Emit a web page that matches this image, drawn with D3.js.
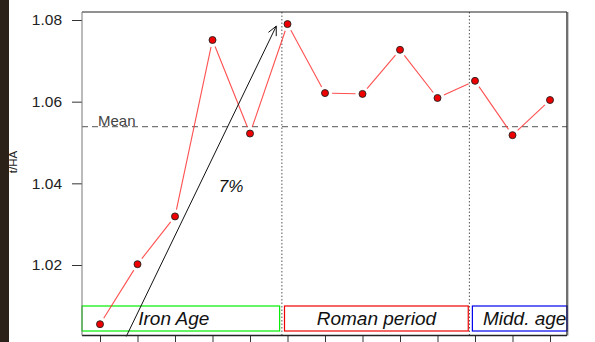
<!DOCTYPE html>
<html>
<head>
<meta charset="utf-8">
<script src="https://cdn.jsdelivr.net/npm/d3@7"></script>
<style>
  html, body { margin: 0; padding: 0; background: #fff; }
  svg { display: block; font-family: Arial, "Liberation Sans", sans-serif; }
</style>
</head>
<body>
<div id="chart"></div>
<script>
// Yield per hectare across successive periods
const sampleIndex = [1, 2, 3, 4, 5, 6, 7, 8, 9, 10, 11, 12, 13];
const yieldValues = [1.0055, 1.0202, 1.0319, 1.0751, 1.0522, 1.0790, 1.0621, 1.0619, 1.0727, 1.0609, 1.0651, 1.0518, 1.0604];
const meanValue = 1.0539;
const yTicks = [1.02, 1.04, 1.06, 1.08];
const periodNames = ["Iron Age", "Roman period", "Midd. age"];
const periodStarts = [0.51, 5.92, 10.93];
const periodEnds = [5.79, 10.82, 13.46];
const periodColors = ["#00ee00", "#ee0000", "#0000ee"];
const periodBreaks = [5.85, 10.85];
const growthLabel = "7%";
const growthFrom = [1.7, 1.0025];
const growthTo = [5.7, 1.0785];

const W = 595, H = 342;
const svg = d3.select("#chart").append("svg").attr("width", W).attr("height", H);

// dark strip along the left edge
svg.append("rect").attr("x", 0).attr("y", 0).attr("width", 9).attr("height", H).attr("fill", "#2b2119");

const plot = { left: 82, right: 567, top: 12, bottom: 335.5 };

const x = d3.scaleLinear().domain([1, 13]).range([100, 550]);
const y = d3.scaleLinear().domain([1.02, 1.08]).range([265, 20]);

// y axis
const yAxis = d3.axisLeft(y).tickValues(yTicks).tickFormat(d3.format(".2f")).tickSize(10).tickPadding(10);
const gy = svg.append("g").attr("transform", `translate(${plot.left},0)`).call(yAxis);
gy.select(".domain").remove();
gy.selectAll(".tick line").attr("stroke", "#333");
gy.selectAll(".tick text").attr("font-size", 15.5).attr("fill", "#222");

// x axis ticks below the frame
const xAxis = d3.axisBottom(x).tickValues(sampleIndex).tickFormat("").tickSize(8);
const gx = svg.append("g").attr("transform", `translate(0,${plot.bottom})`).call(xAxis);
gx.select(".domain").remove();
gx.selectAll(".tick line").attr("stroke", "#333");

// y axis label
svg.append("text")
  .attr("transform", `translate(17,162) rotate(-90)`)
  .attr("text-anchor", "middle")
  .attr("font-size", 11.5)
  .attr("fill", "#222")
  .text("t/HA");

// mean line
svg.append("line")
  .attr("x1", plot.left).attr("x2", plot.right)
  .attr("y1", y(meanValue)).attr("y2", y(meanValue))
  .attr("stroke", "#777").attr("stroke-width", 1.3).attr("stroke-dasharray", "6,4");
svg.append("text")
  .attr("x", 98).attr("y", y(meanValue) - 0.5)
  .attr("font-size", 15).attr("fill", "#444")
  .text("Mean");

// period break lines
svg.selectAll("line.brk").data(periodBreaks).enter().append("line")
  .attr("class", "brk")
  .attr("x1", d => x(d)).attr("x2", d => x(d))
  .attr("y1", plot.top).attr("y2", plot.bottom)
  .attr("stroke", "#555").attr("stroke-width", 1).attr("stroke-dasharray", "1.5,2");

// period boxes
const boxTop = 306, boxBottom = 331;
const boxLeft = i => Math.max(plot.left, x(periodStarts[i]));
const boxRight = i => Math.min(plot.right, x(periodEnds[i]));
const labelShift = [-7, 0, 5];
const pg = svg.selectAll("g.period").data(periodNames).enter().append("g").attr("class", "period");
pg.append("rect")
  .attr("x", (d, i) => boxLeft(i))
  .attr("y", boxTop)
  .attr("width", (d, i) => boxRight(i) - boxLeft(i))
  .attr("height", boxBottom - boxTop)
  .attr("fill", "none")
  .attr("stroke", (d, i) => periodColors[i])
  .attr("stroke-width", 1.2);
pg.append("text")
  .attr("x", (d, i) => (boxLeft(i) + boxRight(i)) / 2 + labelShift[i])
  .attr("y", 325)
  .attr("text-anchor", "middle")
  .attr("font-size", 19)
  .attr("font-style", "italic")
  .attr("fill", "#111")
  .text(d => d);

// series: segments with gaps around the points
const gap = 7;
const segs = [];
for (let i = 0; i < sampleIndex.length - 1; i++) {
  const x0 = x(sampleIndex[i]), y0 = y(yieldValues[i]);
  const x1 = x(sampleIndex[i + 1]), y1 = y(yieldValues[i + 1]);
  const len = Math.hypot(x1 - x0, y1 - y0);
  const ux = (x1 - x0) / len, uy = (y1 - y0) / len;
  segs.push({ x1: x0 + ux * gap, y1: y0 + uy * gap, x2: x1 - ux * gap, y2: y1 - uy * gap });
}
svg.selectAll("line.seg").data(segs).enter().append("line")
  .attr("class", "seg")
  .attr("x1", d => d.x1).attr("y1", d => d.y1)
  .attr("x2", d => d.x2).attr("y2", d => d.y2)
  .attr("stroke", "#ff3030").attr("stroke-width", 1.1).attr("stroke-opacity", 0.85);

svg.selectAll("circle.pt").data(yieldValues).enter().append("circle")
  .attr("class", "pt")
  .attr("cx", (d, i) => x(sampleIndex[i]))
  .attr("cy", d => y(d))
  .attr("r", 3.5)
  .attr("fill", "#ee0000")
  .attr("stroke", "#222")
  .attr("stroke-width", 0.9);

// growth arrow
const ax0 = x(growthFrom[0]), ay0 = y(growthFrom[1]);
const ax1 = x(growthTo[0]), ay1 = y(growthTo[1]);
svg.append("line")
  .attr("x1", ax0).attr("y1", ay0).attr("x2", ax1).attr("y2", ay1)
  .attr("stroke", "#111").attr("stroke-width", 1);
const ang = Math.atan2(ay1 - ay0, ax1 - ax0);
const headLen = 10, headAng = Math.PI / 7;
const head = d3.path();
head.moveTo(ax1 - headLen * Math.cos(ang - headAng), ay1 - headLen * Math.sin(ang - headAng));
head.lineTo(ax1, ay1);
head.lineTo(ax1 - headLen * Math.cos(ang + headAng), ay1 - headLen * Math.sin(ang + headAng));
svg.append("path").attr("d", head.toString()).attr("fill", "none").attr("stroke", "#111").attr("stroke-width", 1);
svg.append("text")
  .attr("x", 231).attr("y", 192)
  .attr("text-anchor", "middle")
  .attr("font-size", 17)
  .attr("font-style", "italic")
  .attr("fill", "#111")
  .text(growthLabel);

// plot frame
svg.append("line").attr("x1", plot.left).attr("x2", plot.right).attr("y1", plot.top).attr("y2", plot.top).attr("stroke", "#222");
svg.append("line").attr("x1", plot.left).attr("x2", plot.right).attr("y1", plot.bottom).attr("y2", plot.bottom).attr("stroke", "#222").attr("stroke-width", 1.3);
svg.append("line").attr("x1", plot.left).attr("x2", plot.left).attr("y1", plot.top).attr("y2", plot.bottom).attr("stroke", "#777");
svg.append("line").attr("x1", plot.right).attr("x2", plot.right).attr("y1", plot.top).attr("y2", plot.bottom).attr("stroke", "#222").attr("stroke-width", 1.3);
svg.append("line").attr("x1", plot.right + 1.5).attr("x2", plot.right + 1.5).attr("y1", plot.top).attr("y2", plot.bottom).attr("stroke", "#ccc").attr("stroke-width", 1);
</script>
</body>
</html>
